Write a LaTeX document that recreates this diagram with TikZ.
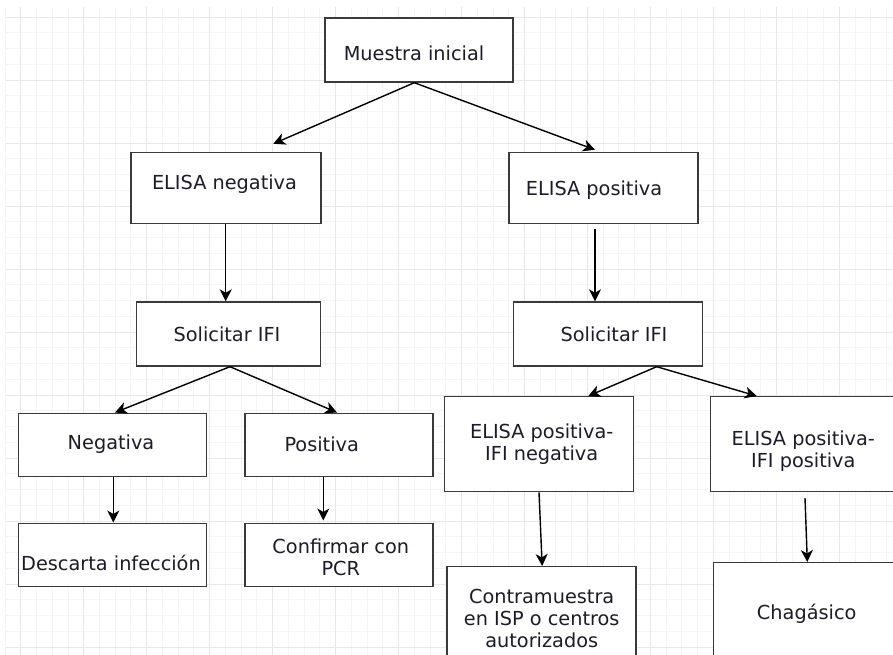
\documentclass[tikz,border=0pt]{standalone}
\usepackage{fontspec}
\setmainfont{DejaVu Sans}
\usetikzlibrary{arrows.meta}
\definecolor{gminor}{HTML}{F5F5F5}
\definecolor{gmajor}{HTML}{E8E8E8}
\definecolor{edgec}{HTML}{3A3A3A}
\definecolor{ink}{HTML}{1C1C28}
\begin{document}
\begin{tikzpicture}[x=1pt,y=-1pt,
  box/.style={draw=edgec,line width=1.4pt,fill=white,inner sep=0pt},
  txt/.style={text=ink,font=\fontsize{19.3}{22}\selectfont,align=center,inner sep=0pt},
  arr/.style={-{Stealth[length=12pt,width=12pt,inset=3.5pt]},line width=1.4pt,black}]
\useasboundingbox (0,0) rectangle (893,655);
\clip (0,0) rectangle (893,655);
\fill[white] (0,0) rectangle (893,655);
% grid
\foreach \i in {0,...,56} \draw[gminor,line width=0.8pt] ({4.96+15.74*\i},7) -- ({4.96+15.74*\i},655);
\foreach \j in {1,...,41} \draw[gminor,line width=0.8pt] (6,{1.25+15.75*\j}) -- (893,{1.25+15.75*\j});
\foreach \i in {0,...,13} \draw[gmajor,line width=0.8pt] ({20.7+62.96*\i},7) -- ({20.7+62.96*\i},655);
\foreach \j in {0,...,10} \draw[gmajor,line width=0.8pt] (6,{17+63*\j}) -- (893,{17+63*\j});
% boxes
\node[box,minimum width=188pt,minimum height=64pt] (mi) at (419,50) {};
\node[box,minimum width=190pt,minimum height=71pt] (en) at (226,188) {};
\node[box,minimum width=189pt,minimum height=71pt] (ep) at (603.5,188) {};
\node[box,minimum width=184pt,minimum height=64pt] (sl) at (228.7,334) {};
\node[box,minimum width=189pt,minimum height=64pt] (sr) at (608,334) {};
\node[box,minimum width=188pt,minimum height=63pt] (neg) at (112.5,444.7) {};
\node[box,minimum width=188pt,minimum height=63pt] (pos) at (339,444.7) {};
\node[box,minimum width=188pt,minimum height=63pt] (desc) at (112.5,554.7) {};
\node[box,minimum width=188pt,minimum height=63pt] (pcr) at (339,554.7) {};
\node[box,minimum width=189pt,minimum height=95pt] (ipn) at (538.8,444.2) {};
\node[box,minimum width=189pt,minimum height=95pt] (ipp) at (805.2,444.2) {};
\node[box,minimum width=189pt,minimum height=95pt] (con) at (541.6,614.2) {};
\node[box,minimum width=189pt,minimum height=101pt] (cha) at (807.8,613.2) {};
% texts
\node[txt] (mit) at (414,53) {Muestra inicial};
\node[txt] (ent) at (224.5,184) {ELISA negativa};
\node[txt] (ept) at (594,190) {ELISA positiva};
\node[txt] (slt) at (227,334) {Solicitar IFI};
\node[txt] (srt) at (614,334) {Solicitar IFI};
\node[txt] (negt) at (111,444) {Negativa};
\node[txt] (post) at (321.7,444) {Positiva};
\node[txt] (desct) at (111,562.7) {Descarta infección};
\node[txt] (pcrt) at (340.8,557.5) {Confirmar con\\PCR};
\node[txt] (ipnt) at (541.7,444) {ELISA positiva-\\IFI negativa};
\node[txt] (ippt) at (803.3,451) {ELISA positiva-\\IFI positiva};
\node[txt] (cont) at (541.7,618) {Contramuestra\\en ISP o centros\\autorizados};
\node[txt] (chat) at (806.7,613.3) {Chagásico};
% arrows
\draw[arr] ([xshift=-4.7pt]mi.south) -- ([xshift=47.3pt,yshift=8pt]en.north);
\draw[arr] ([xshift=-4.7pt]mi.south) -- ([xshift=-8.5pt,yshift=2pt]ep.north);
\draw[arr] ([xshift=-0.3pt]en.south) -- ([xshift=-3pt]sl.north);
\draw[arr] ([xshift=-8.5pt,yshift=-5pt]ep.south) -- ([xshift=-13pt]sr.north);
\draw[arr] ([xshift=1.3pt]sl.south) -- ([xshift=2.5pt]neg.north);
\draw[arr] ([xshift=1.3pt]sl.south) -- ([xshift=-2pt]pos.north);
\draw[arr] ([xshift=48.7pt]sr.south) -- ([xshift=49.5pt]ipn.north);
\draw[arr] ([xshift=48.7pt]sr.south) -- ([xshift=-48.5pt]ipp.north);
\draw[arr] ([xshift=0.8pt]neg.south) -- ([xshift=0.8pt]desc.north);
\draw[arr] ([xshift=-15.7pt]pos.south) -- ([xshift=-15.7pt,yshift=2pt]pcr.north);
\draw[arr] ([xshift=0.2pt]ipn.south) -- ([xshift=0.6pt]con.north);
\draw[arr] ([xshift=-0.2pt,yshift=-5.6pt]ipp.south) -- ([xshift=-0.5pt]cha.north);
\end{tikzpicture}
\end{document}
